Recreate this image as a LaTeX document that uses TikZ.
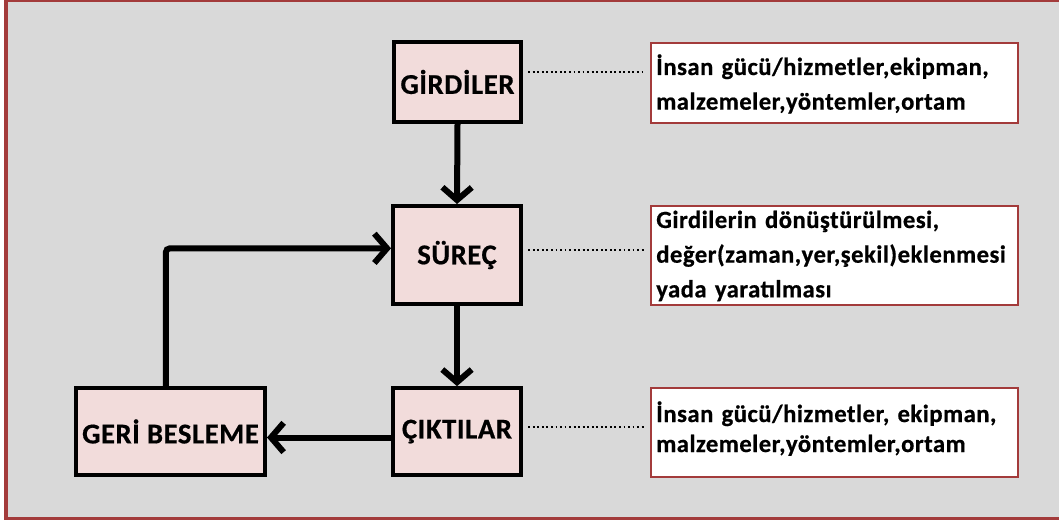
\documentclass[tikz,border=0pt]{standalone}
\usepackage{fontspec}
\setmainfont{Carlito}
\newfontfamily\lblfont[LetterSpace=2,FakeBold=0.6]{Carlito Bold}
\newfontfamily\infofont[LetterSpace=2,FakeBold=0.6]{Carlito Bold}
\usetikzlibrary{arrows.meta}
\definecolor{bggray}{HTML}{D9D9D9}
\definecolor{frame}{HTML}{A33B3B}
\definecolor{boxred}{HTML}{A33B3B}
\definecolor{pinkfill}{HTML}{F2DCDB}
\begin{document}
\begin{tikzpicture}[x=0.75pt,y=-0.75pt,
  mainbox/.style={draw=black, line width=3pt, fill=pinkfill, inner sep=0pt,
    font=\lblfont\fontsize{21.5}{25}\selectfont},
  infobox/.style={draw=boxred, line width=1.5pt, fill=white, inner sep=0pt,
    minimum width=275pt},
  infotext/.style={anchor=base west, inner sep=0pt, text width=340pt, align=left,
    font=\infofont\fontsize{18.5}{26}\selectfont},
  flow/.style={line width=4.5pt, -{Straight Barb[length=9.5pt,width=22pt]}},
  dots/.style={line width=1.4pt, dash pattern=on 1.4pt off 2pt},
  shadowdots/.style={line width=1.2pt, dash pattern=on 1.2pt off 2.8pt}]
\clip (0,0) rectangle (1059,523);
\useasboundingbox (0,0) rectangle (1059,523);
\fill[white] (0,0) rectangle (1059,523);
\draw[frame, line width=2.4pt, fill=bggray] (6,0) rectangle (1075,518.5);

% main boxes
\node[mainbox, minimum width=95pt, minimum height=60pt] (gir) at (457.5,82) {GİRDİLER};
\node[mainbox, minimum width=96pt, minimum height=73.5pt] (surec) at (457,255) {SÜREÇ};
\node[mainbox, minimum width=96pt, minimum height=65pt] (cik) at (457,431.5) {ÇIKTILAR};
\node[mainbox, minimum width=141.75pt, minimum height=65pt] (geri) at (170.5,431.5) {GERİ BESLEME};

% info boxes
\node[infobox, minimum height=60pt] (box1) at (834.5,83) {};
\node[infobox, minimum height=74.25pt] (box2) at (834.5,255.5) {};
\node[infobox, minimum height=66.75pt] (box3) at (834.5,432.5) {};

\node[infotext] (t1) at (656,75) {İnsan gücü/hizmetler,ekipman,\\malzemeler,yöntemler,ortam};
\node[infotext] (t2) at (656,228) {Girdilerin dönüştürülmesi,\\değer(zaman,yer,şekil)eklenmesi\\yada yaratılması};
\node[infotext, font=\infofont\fontsize{18.5}{22.5}\selectfont] (t3) at (656,422) {İnsan gücü/hizmetler, ekipman,\\malzemeler,yöntemler,ortam};

% dotted connectors
\coordinate (d1) at ([xshift=4pt,yshift=7.5pt]gir.east);
\coordinate (e1) at ([xshift=-4pt]box1.west);
\draw[dots] (d1) -- (d1 -| e1);
\coordinate (d2) at ([xshift=4pt,yshift=3.75pt]surec.east);
\coordinate (e2) at ([xshift=-4pt]box2.west);
\draw[dots] (d2) -- (d2 -| e2);
\coordinate (d3) at ([xshift=4pt,yshift=3.4pt]cik.east);
\coordinate (e3) at ([xshift=-4pt]box3.west);
\draw[dots] (d3) -- (d3 -| e3);

% shadows of the arrows
\begin{scope}[shift={(-5,5)}]
\draw[shadowdots] (gir.south) -- (surec.north);
\draw[shadowdots] (surec.south) -- (cik.north);
\draw[shadowdots] ([yshift=-4.5pt]cik.west) -- ([yshift=-4.5pt]geri.east);
\draw[shadowdots] ([xshift=-3.5pt]geri.north) |- ([yshift=5pt]surec.west);
\end{scope}

% arrows
\draw[flow] (gir.south) -- (surec.north);
\draw[flow] (surec.south) -- (cik.north);
\draw[flow] ([yshift=-4.5pt]cik.west) -- ([yshift=-4.5pt]geri.east);
\draw[flow, rounded corners=3pt] ([xshift=-3.5pt]geri.north) |- ([yshift=5pt]surec.west);
\end{tikzpicture}
\end{document}
